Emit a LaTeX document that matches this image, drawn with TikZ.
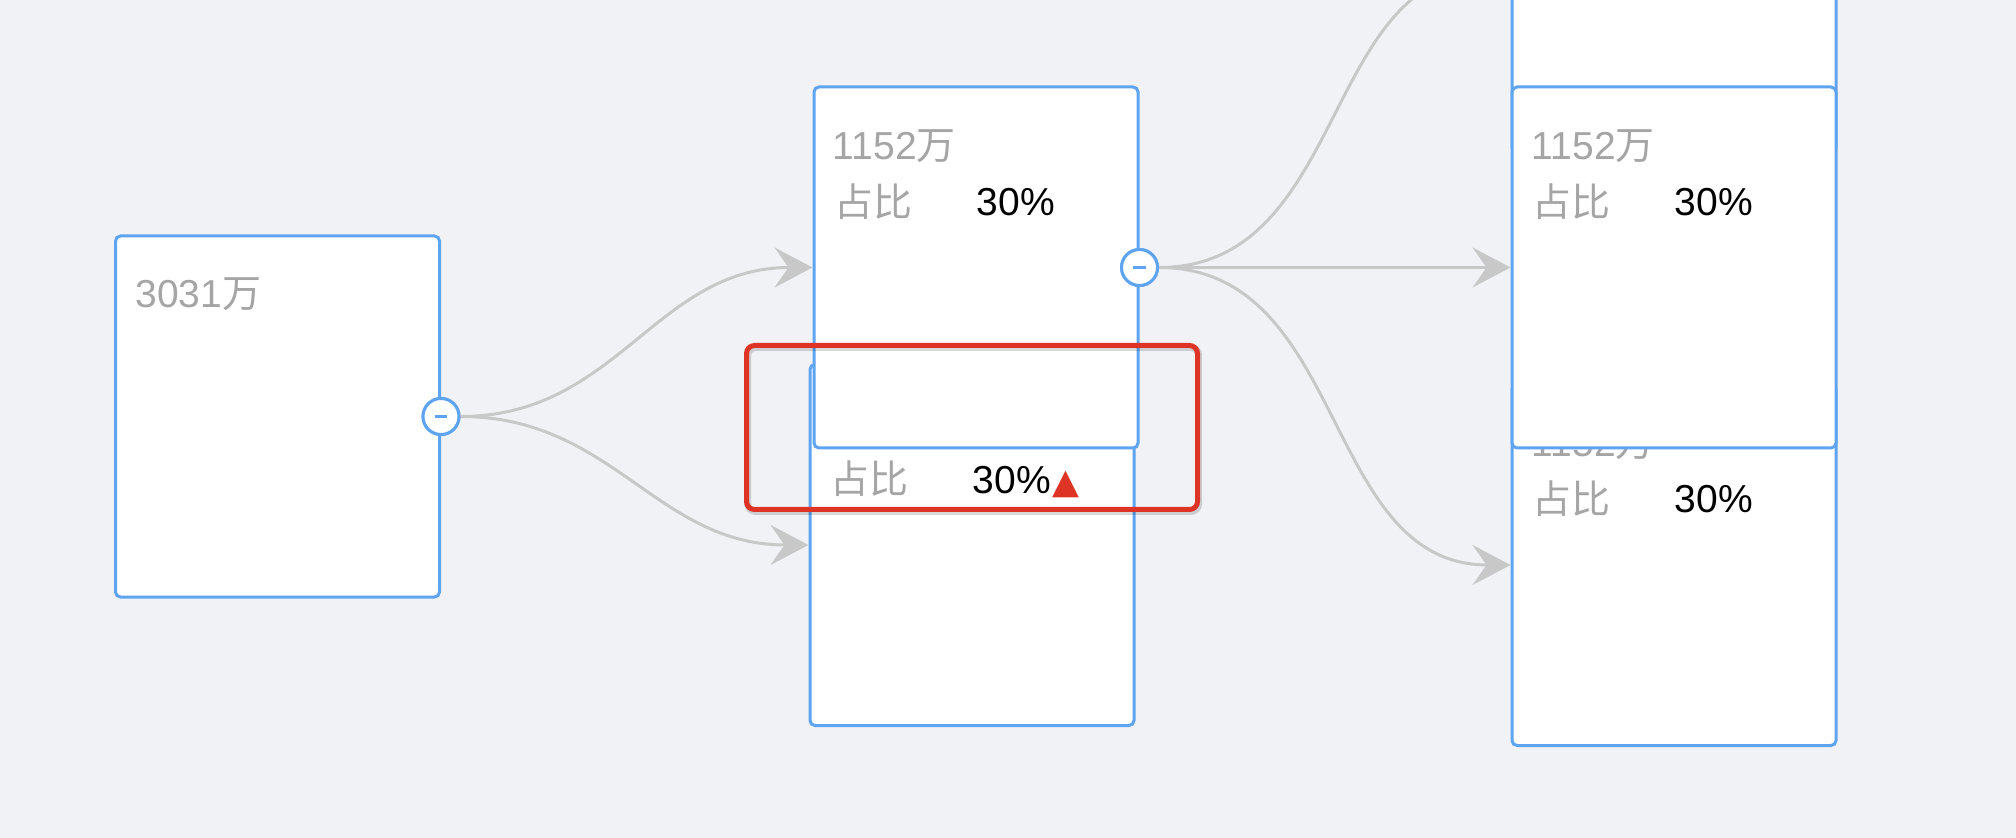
\documentclass[tikz,border=0pt]{standalone}
\usepackage{fontspec}
\setmainfont{Liberation Sans}
\newfontfamily\cjk{Noto Sans CJK SC}
\newfontfamily\symfont{DejaVu Sans}
\usetikzlibrary{arrows.meta, positioning, calc}
\definecolor{pagebg}{RGB}{240,242,245}
\definecolor{cardblue}{RGB}{94,164,240}
\definecolor{linkgray}{RGB}{200,200,200}
\definecolor{labelgray}{RGB}{165,165,165}
\definecolor{alertred}{RGB}{222,52,38}

\begin{document}
\begin{tikzpicture}[
        x=0.5pt, y=-0.5pt,
        every node/.style={font=\fontsize{19.5}{23}\selectfont, inner sep=0pt},
        card/.style={draw=cardblue, line width=1.5pt, fill=white, rounded corners=2.5pt,
            minimum width=162pt, minimum height=180.5pt},
        toggle/.style={circle, draw=cardblue, line width=1.5pt, fill=white, minimum size=18pt,
            path picture={\draw[cardblue, line width=1.6pt]
                ([xshift=-3.2pt]path picture bounding box.center) -- ([xshift=3.2pt]path picture bounding box.center);}},
        link/.style={draw=linkgray, line width=1.5pt, -{Stealth[length=19pt, width=20pt, inset=7pt]},
            out=0, in=180, looseness=1.05},
        amount/.style={anchor=base west, text=labelgray},
        share/.style={anchor=base west, text=labelgray},
        pct/.style={anchor=base west, text=black},
        hilite/.style={draw=alertred, line width=2.5pt, rounded corners=4pt,
            minimum width=225.5pt, minimum height=82pt,
            preaction={draw=black, opacity=0.15, line width=3.5pt, transform canvas={shift={(0.6pt,-1pt)}}}}
    ]
        \useasboundingbox (0,0) rectangle (2016,838);
        \clip (0,0) rectangle (2016,838);
        \fill[pagebg] (0,0) rectangle (2016,838);

        \node[card] (root) at (277.5,416.5) {};
        \node[amount] (rootamt) at ($(root.north west)+(21,73)$) {3031{\cjk 万}};

        \node[card] (midlow) at (972,545) {};
        \node[share] (midlowshr) at ($(midlow.north west)+(22,131)$) {\cjk 占比};
        \node[pct] (midlowpct) at ($(midlow.north west)+(164,131)$) {30\%};
        \node[anchor=base west, text=alertred, font=\symfont\fontsize{17.5}{20}\selectfont] (midlowup)
            at ([xshift=0.5pt]midlowpct.base east) {▲};

        \node[card] (midtop) at (976,267.5) {};
        \node[amount] (midtopamt) at ($(midtop.north west)+(20,74)$) {1152{\cjk 万}};
        \node[share] (midtopshr) at ($(midtop.north west)+(22,131)$) {\cjk 占比};
        \node[pct] (midtoppct) at ($(midtop.north west)+(164,130)$) {30\%};

        \node[card] (leafup) at (1674,-28) {};

        \node[card] (leaflow) at (1674,565) {};
        \node[amount] (leaflowamt) at ($(leaflow.north west)+(21,74)$) {1152{\cjk 万}};
        \node[share] (leaflowshr) at ($(leaflow.north west)+(22,131)$) {\cjk 占比};
        \node[pct] (leaflowpct) at ($(leaflow.north west)+(164,130)$) {30\%};

        \node[card] (leafmid) at (1674,267.5) {};
        \node[amount] (leafmidamt) at ($(leafmid.north west)+(21,74)$) {1152{\cjk 万}};
        \node[share] (leafmidshr) at ($(leafmid.north west)+(22,131)$) {\cjk 占比};
        \node[pct] (leafmidpct) at ($(leafmid.north west)+(164,130)$) {30\%};

        \node[toggle] (roottog) at (root.east) {};
        \node[toggle] (midtoptog) at (midtop.east) {};

        \draw[link] (roottog) to (midtop);
        \draw[link] (roottog) to (midlow);
        \draw[link] (midtoptog) to (leafup);
        \draw[link] (midtoptog) to (leafmid);
        \draw[link] (midtoptog) to (leaflow);

        \node[toggle] at (root.east) {};
        \node[toggle] at (midtop.east) {};

        \node[hilite] (focus) at (972,427.5) {};
    \end{tikzpicture}
\end{document}
